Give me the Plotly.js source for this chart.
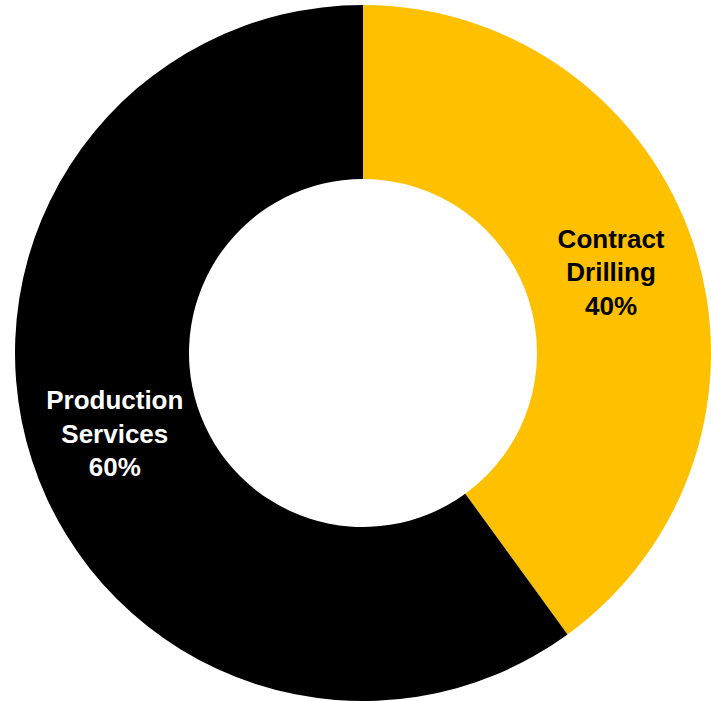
<!DOCTYPE html>
<html>
<head>
<meta charset="utf-8">
<script src="https://cdn.plot.ly/plotly-3.0.1.min.js"></script>
<style>html,body{margin:0;padding:0;background:#fff;}#chart{width:711px;height:701px;}</style>
</head>
<body>
<div id="chart"></div>
<script>
var labels = ["Contract<br>Drilling", "Production<br>Services"];
var values = [40, 60];
var colors = ["#FFC000", "#000000"];
var textColors = ["#000000", "#FFFFFF"];

var trace = {
  type: "pie",
  labels: labels,
  values: values,
  hole: 0.5,
  sort: false,
  direction: "clockwise",
  rotation: 0,
  marker: {colors: colors, line: {width: 0}},
  textinfo: "label+percent",
  textposition: "inside",
  insidetextorientation: "horizontal",
  insidetextfont: {family: "Liberation Sans, Arial, sans-serif", size: 26, color: textColors, weight: "bold"},
  domain: {x: [0.0211, 1.0], y: [0.0, 0.9929]},
  showlegend: false,
  hoverinfo: "none"
};

var layout = {
  width: 711,
  height: 701,
  margin: {l: 0, r: 0, t: 0, b: 0},
  paper_bgcolor: "#FFFFFF",
  plot_bgcolor: "#FFFFFF",
  showlegend: false,
  uniformtext: {mode: false}
};

Plotly.newPlot("chart", [trace], layout, {displayModeBar: false, staticPlot: true});
</script>
</body>
</html>
